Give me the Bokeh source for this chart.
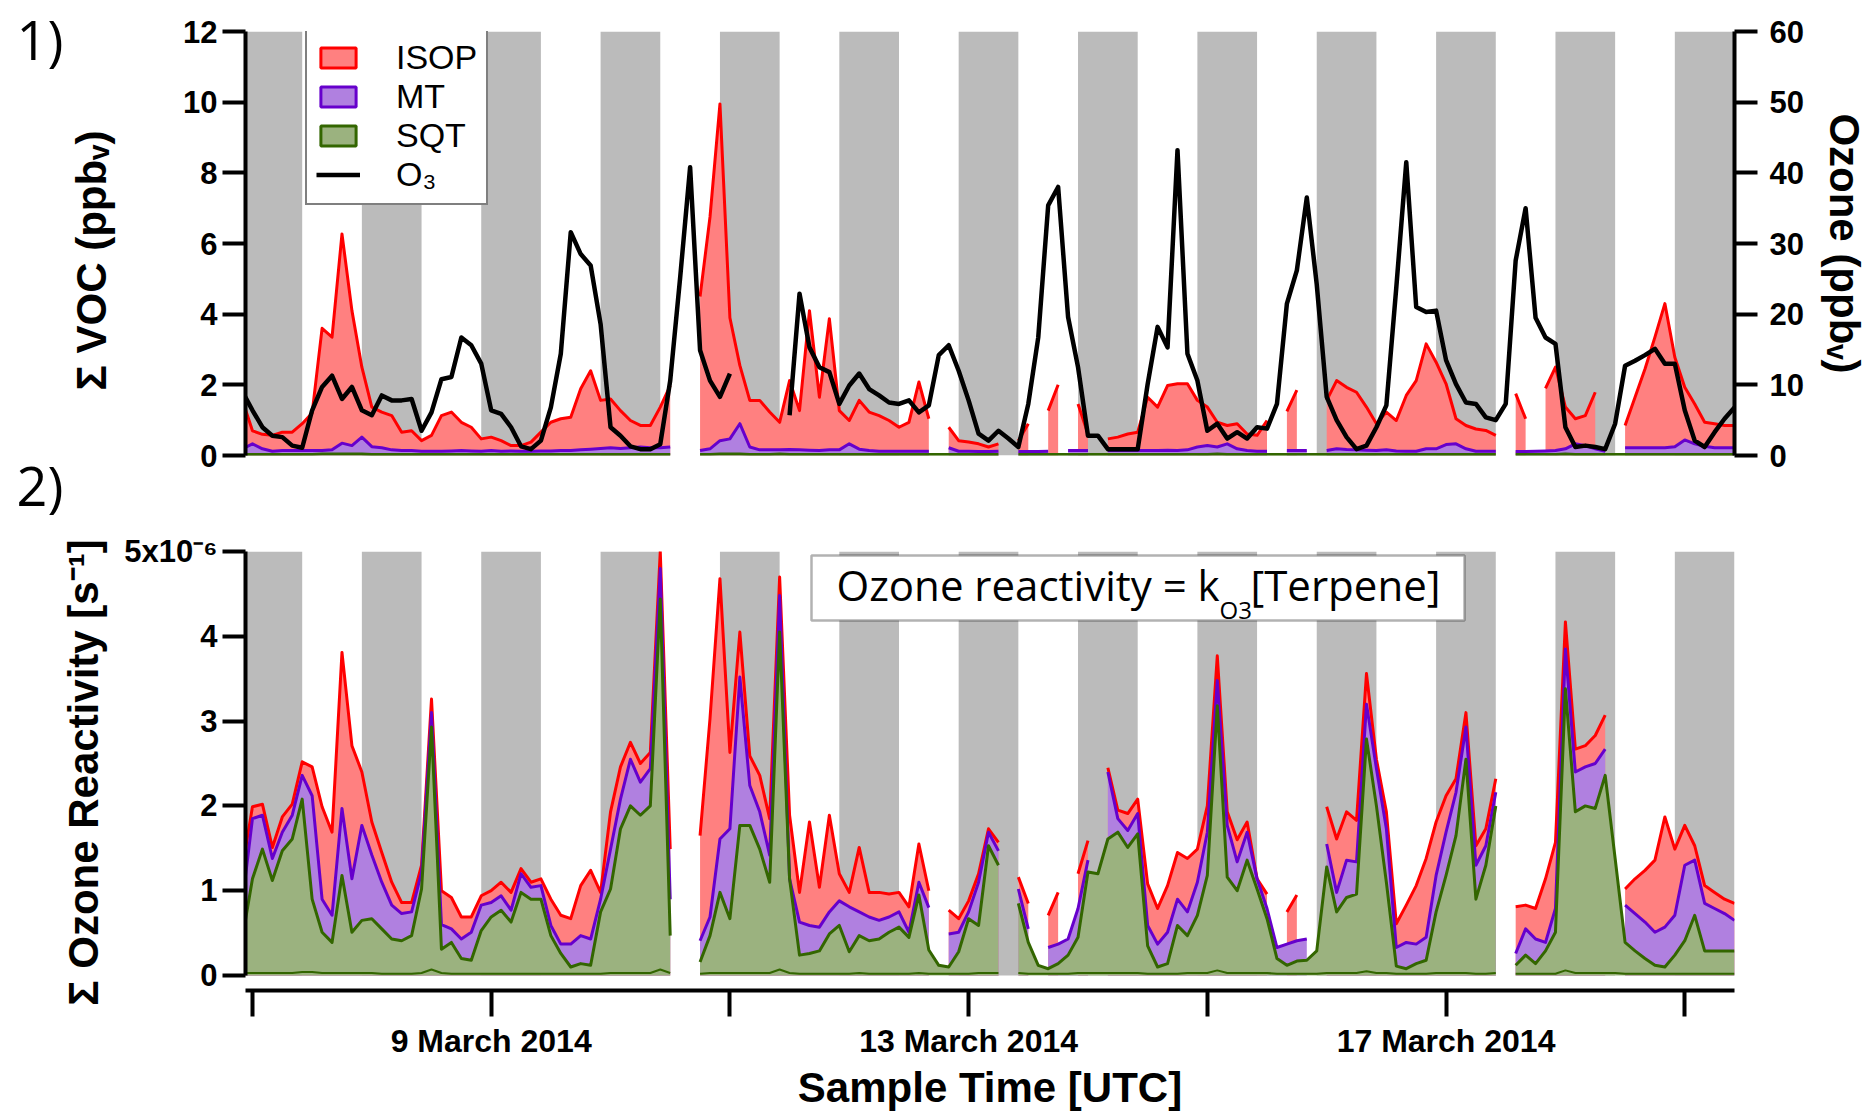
import math
import numpy as np
import pandas as pd
from bokeh.plotting import figure
from bokeh.models import (ColumnDataSource, Range1d, LinearAxis, FixedTicker,
                          Label, Legend, LegendItem, BoxAnnotation)
from bokeh.layouts import column, row
from bokeh.embed import file_html
from bokeh.resources import INLINE

NaN = float("nan")

# ---------------- data ----------------
sample_time = pd.date_range("2014-03-06 22:00", periods=151, freq="2h")
night_start = pd.date_range("2014-03-06 22:00", "2014-03-18 22:00", freq="D")
night_end = night_start + pd.Timedelta(hours=12)

# Panel 1: mixing ratios (ppbv)
isop = [
    1.56, 0.70, 0.60, 0.57, 0.66, 0.66, 0.90, 1.20, 3.60, 3.35,
    6.27, 4.10, 2.50, 1.37, 1.23, 1.13, 0.66, 0.70, 0.42, 0.57,
    1.13, 1.23, 0.94, 0.80, 0.47, 0.52, 0.42, 0.28, 0.28, 0.38,
    0.66, 0.94, 1.04, 1.08, 1.89, 2.40, 1.56, 1.60, 1.27, 0.99,
    0.85, 0.85, 1.37, 1.98, NaN, NaN, 4.50, 6.75, 9.95, 3.90,
    2.55, 1.56, 1.56, 1.23, 0.94, 2.12, 1.27, 4.10, 1.65, 3.87,
    1.27, 0.99, 1.56, 1.23, 1.13, 0.99, 0.80, 0.94, 2.08, 1.04,
    NaN, 0.80, 0.42, 0.38, 0.33, 0.24, 0.33, NaN, 0.42, 0.90,
    NaN, 1.27, 2.00, NaN, 1.46, 0.61, NaN, 0.47, 0.52, 0.61,
    0.66, 1.65, 1.37, 1.98, 2.03, 2.03, 1.56, 1.37, 0.94, 0.85,
    0.90, 0.61, 0.57, 0.99, NaN, 1.25, 1.85, NaN, NaN, 1.56,
    2.12, 1.93, 1.79, 1.37, 0.90, 1.23, 0.99, 1.70, 2.12, 3.16,
    2.64, 2.03, 1.04, 0.85, 0.75, 0.71, 0.57, NaN, 1.75, 1.04,
    NaN, 1.90, 2.50, 1.37, 1.04, 1.13, 1.79, NaN, NaN, 0.85,
    1.65, 2.45, 3.35, 4.30, 2.78, 1.93, 1.46, 0.94, 0.90, 0.85, 0.85]

mt = [
    0.19, 0.33, 0.19, 0.12, 0.14, 0.14, 0.14, 0.14, 0.14, 0.16,
    0.35, 0.28, 0.52, 0.25, 0.22, 0.16, 0.14, 0.14, 0.12, 0.12,
    0.12, 0.13, 0.14, 0.13, 0.12, 0.14, 0.12, 0.13, 0.12, 0.12,
    0.13, 0.13, 0.14, 0.14, 0.16, 0.18, 0.20, 0.22, 0.20, 0.22,
    0.24, 0.22, 0.22, 0.24, NaN, NaN, 0.14, 0.19, 0.42, 0.47,
    0.90, 0.24, 0.16, 0.16, 0.16, 0.17, 0.16, 0.15, 0.14, 0.16,
    0.16, 0.33, 0.18, 0.14, 0.12, 0.12, 0.12, 0.12, 0.12, 0.12,
    NaN, 0.22, 0.12, 0.12, 0.11, 0.11, 0.12, NaN, 0.11, 0.11,
    0.11, 0.12, NaN, 0.14, 0.14, 0.14, NaN, 0.14, 0.14, 0.14,
    0.14, 0.14, 0.14, 0.15, 0.14, 0.16, 0.24, 0.28, 0.24, 0.33,
    0.19, 0.14, 0.12, 0.12, NaN, 0.14, 0.14, 0.14, NaN, 0.14,
    0.19, 0.17, 0.16, 0.15, 0.14, 0.16, 0.13, 0.12, 0.12, 0.19,
    0.19, 0.31, 0.33, 0.19, 0.12, 0.12, 0.12, NaN, 0.11, 0.11,
    0.12, 0.13, 0.14, 0.19, 0.33, 0.28, 0.19, 0.12, NaN, 0.22,
    0.22, 0.22, 0.22, 0.22, 0.25, 0.44, 0.33, 0.26, 0.22, 0.22, 0.22]

sqt = [
    0.03, 0.03, 0.03, 0.03, 0.03, 0.03, 0.03, 0.03, 0.04, 0.04,
    0.04, 0.04, 0.04, 0.03, 0.03, 0.03, 0.03, 0.03, 0.03, 0.03,
    0.03, 0.03, 0.03, 0.03, 0.03, 0.03, 0.03, 0.03, 0.03, 0.03,
    0.03, 0.03, 0.03, 0.03, 0.03, 0.03, 0.03, 0.03, 0.03, 0.03,
    0.03, 0.03, 0.03, 0.03, NaN, NaN, 0.03, 0.03, 0.04, 0.04,
    0.04, 0.03, 0.03, 0.03, 0.04, 0.03, 0.03, 0.03, 0.03, 0.03,
    0.03, 0.03, 0.03, 0.03, 0.03, 0.03, 0.03, 0.03, 0.03, 0.03,
    0.03, 0.03, 0.03, 0.03, 0.03, 0.03, 0.03, NaN, 0.03, 0.03,
    0.03, 0.03, 0.03, 0.03, 0.03, 0.03, 0.03, 0.03, 0.03, 0.03,
    0.03, 0.03, 0.03, 0.03, 0.03, 0.03, 0.03, 0.03, 0.04, 0.03,
    0.03, 0.03, 0.03, 0.03, 0.03, 0.03, 0.03, 0.03, 0.03, 0.03,
    0.03, 0.03, 0.03, 0.03, 0.03, 0.03, 0.03, 0.03, 0.03, 0.03,
    0.03, 0.03, 0.03, 0.03, 0.03, 0.03, 0.03, NaN, 0.03, 0.03,
    0.03, 0.03, 0.03, 0.04, 0.03, 0.03, 0.03, 0.03, 0.03, 0.03,
    0.03, 0.03, 0.03, 0.03, 0.03, 0.03, 0.03, 0.03, 0.03, 0.03, 0.03]

o3 = [
    9.0, 6.4, 4.0, 2.8, 2.6, 1.4, 1.1, 6.4, 9.7, 11.3,
    8.0, 9.7, 6.4, 5.7, 8.5, 7.8, 7.8, 8.0, 3.5, 6.1,
    10.8, 11.1, 16.7, 15.6, 13.0, 6.4, 5.9, 4.0, 1.3, 0.9,
    2.1, 6.8, 14.4, 31.6, 28.5, 26.9, 18.6, 4.0, 2.8, 1.3,
    0.9, 0.9, 1.6, 10.6, 25.2, 40.8, 14.9, 10.6, 8.3, 11.6,
    NaN, NaN, NaN, NaN, NaN, 5.7, 22.9, 15.3, 12.5, 11.8,
    7.3, 9.9, 11.6, 9.4, 8.5, 7.5, 7.3, 7.8, 6.1, 7.1,
    14.2, 15.6, 12.0, 7.8, 3.1, 2.1, 3.5, 2.4, 1.2, 7.3,
    16.7, 35.4, 38.0, 19.6, 12.5, 2.8, 2.8, 0.9, 0.9, 0.9,
    0.9, 10.1, 18.2, 15.3, 43.2, 14.4, 10.6, 3.5, 4.5, 2.4,
    3.3, 2.4, 4.0, 3.8, 7.3, 21.5, 26.2, 36.5, 24.2, 8.3,
    5.0, 2.6, 0.9, 1.4, 4.0, 7.1, 23.8, 41.5, 21.0, 20.3,
    20.5, 13.5, 10.1, 7.5, 7.3, 5.4, 5.0, 7.3, 27.6, 35.0,
    19.5, 16.7, 15.8, 4.0, 1.2, 1.4, 1.2, 0.9, 4.5, 12.7,
    13.4, 14.2, 15.1, 13.0, 13.0, 6.4, 2.1, 1.2, 3.3, 5.2, 6.8]

# Panel 2: ozone reactivity (1e-6 s^-1), cumulative levels
react_isop = [
    1.28, 1.99, 2.02, 1.51, 1.87, 2.02, 2.52, 2.46, 1.99, 1.69,
    3.81, 2.71, 2.40, 1.81, 1.45, 1.10, 0.86, 0.86, 1.30, 3.26,
    1.00, 0.92, 0.69, 0.69, 0.94, 1.00, 1.10, 0.98, 1.26, 1.10,
    1.14, 0.90, 0.71, 0.67, 1.06, 1.24, 0.98, 1.93, 2.46, 2.75,
    2.50, 2.63, 5.00, 1.49, NaN, NaN, 1.65, 3.03, 4.68, 2.63,
    4.05, 2.59, 2.36, 1.85, 4.70, 1.89, 0.98, 1.81, 1.04, 1.89,
    1.20, 0.98, 1.51, 0.98, 0.98, 0.96, 0.98, 0.81, 1.55, 1.00,
    NaN, 0.77, 0.67, 0.88, 1.20, 1.73, 1.57, NaN, 1.16, 0.85,
    NaN, 0.71, 0.98, NaN, 1.20, 1.59, NaN, 2.45, 1.95, 1.91,
    2.08, 1.08, 0.79, 1.06, 1.45, 1.38, 1.49, 2.00, 3.77, 1.93,
    1.60, 1.81, 1.14, 0.96, NaN, 0.75, 0.95, NaN, NaN, 1.99,
    1.61, 1.93, 1.83, 3.56, 2.55, 1.93, 0.61, 0.83, 1.06, 1.38,
    1.81, 2.12, 2.32, 3.10, 1.53, 1.73, 2.32, NaN, 0.81, 0.83,
    0.79, 1.14, 1.57, 4.17, 2.67, 2.71, 2.83, 3.07, NaN, 1.02,
    1.14, 1.24, 1.36, 1.87, 1.49, 1.77, 1.53, 1.06, 0.98, 0.90, 0.85]

react_mt = [
    0.88, 1.85, 1.89, 1.38, 1.69, 1.89, 2.36, 2.12, 0.90, 0.71,
    1.97, 1.14, 1.77, 1.42, 1.10, 0.83, 0.73, 0.75, 1.22, 3.10,
    0.60, 0.55, 0.43, 0.51, 0.83, 0.86, 0.94, 0.77, 1.20, 1.04,
    1.06, 0.59, 0.37, 0.37, 0.47, 0.43, 0.90, 1.49, 2.08, 2.55,
    2.28, 2.44, 4.80, 0.90, NaN, NaN, 0.41, 0.69, 1.61, 1.73,
    3.52, 2.24, 1.93, 1.42, 4.48, 1.14, 0.63, 0.59, 0.57, 0.75,
    0.88, 0.81, 0.75, 0.69, 0.65, 0.69, 0.75, 0.51, 1.10, 0.80,
    NaN, 0.49, 0.51, 0.75, 1.10, 1.69, 1.47, NaN, 1.02, 0.55,
    NaN, 0.33, 0.37, 0.43, 0.79, 1.36, NaN, 2.40, 1.85, 1.71,
    1.91, 0.59, 0.37, 0.51, 0.90, 0.75, 1.10, 1.69, 3.48, 1.77,
    1.34, 1.69, 1.14, 0.79, 0.33, 0.37, 0.41, 0.43, NaN, 1.55,
    0.98, 1.36, 1.34, 3.20, 2.44, 1.73, 0.33, 0.39, 0.37, 0.45,
    1.18, 1.69, 2.16, 2.93, 1.30, 1.53, 2.16, NaN, 0.26, 0.55,
    0.43, 0.39, 0.79, 3.85, 2.40, 2.46, 2.50, 2.67, NaN, 0.83,
    0.73, 0.63, 0.51, 0.57, 0.71, 1.30, 1.36, 0.85, 0.79, 0.73, 0.65]

react_sqt = [
    0.45, 1.14, 1.49, 1.12, 1.47, 1.61, 2.08, 0.90, 0.51, 0.39,
    1.18, 0.51, 0.65, 0.67, 0.55, 0.43, 0.41, 0.47, 1.02, 2.93,
    0.31, 0.39, 0.20, 0.18, 0.53, 0.69, 0.77, 0.63, 0.98, 0.90,
    0.90, 0.47, 0.26, 0.10, 0.14, 0.12, 0.75, 1.02, 1.73, 2.00,
    1.89, 2.00, 4.44, 0.47, NaN, NaN, 0.16, 0.47, 0.98, 0.67,
    1.77, 1.77, 1.49, 1.10, 4.05, 1.14, 0.24, 0.26, 0.29, 0.49,
    0.59, 0.28, 0.47, 0.41, 0.43, 0.51, 0.57, 0.45, 0.95, 0.30,
    0.12, 0.10, 0.28, 0.67, 0.59, 1.53, 1.30, NaN, 0.85, 0.39,
    0.12, 0.08, 0.14, 0.24, 0.45, 1.22, 1.20, 1.61, 1.69, 1.51,
    1.67, 0.35, 0.10, 0.14, 0.59, 0.47, 0.71, 1.18, 3.18, 1.16,
    1.00, 1.36, 1.02, 0.67, 0.20, 0.12, 0.17, 0.18, 0.29, 1.28,
    0.75, 0.92, 0.96, 2.79, 2.00, 1.10, 0.11, 0.08, 0.14, 0.18,
    0.75, 1.18, 1.65, 2.55, 0.90, 1.30, 2.00, NaN, 0.12, 0.24,
    0.14, 0.29, 0.51, 3.38, 1.93, 2.00, 1.97, 2.36, 1.38, 0.39,
    0.29, 0.20, 0.12, 0.10, 0.24, 0.41, 0.71, 0.29, 0.29, 0.29, 0.29]

react_base = [
    0.03, 0.03, 0.03, 0.03, 0.03, 0.03, 0.04, 0.04, 0.03, 0.03,
    0.03, 0.03, 0.03, 0.03, 0.02, 0.02, 0.02, 0.02, 0.03, 0.07,
    0.03, 0.02, 0.02, 0.02, 0.02, 0.02, 0.02, 0.02, 0.02, 0.02,
    0.02, 0.02, 0.02, 0.02, 0.02, 0.02, 0.02, 0.03, 0.03, 0.03,
    0.03, 0.03, 0.07, 0.03, NaN, NaN, 0.02, 0.03, 0.03, 0.03,
    0.03, 0.03, 0.03, 0.03, 0.07, 0.03, 0.02, 0.02, 0.02, 0.02,
    0.02, 0.02, 0.03, 0.02, 0.02, 0.02, 0.02, 0.02, 0.03, 0.02,
    0.02, 0.02, 0.02, 0.02, 0.03, 0.03, 0.03, NaN, 0.03, 0.02,
    0.02, 0.02, 0.02, 0.02, 0.03, 0.03, 0.03, 0.03, 0.03, 0.03,
    0.03, 0.02, 0.02, 0.02, 0.02, 0.03, 0.03, 0.03, 0.06, 0.03,
    0.03, 0.03, 0.03, 0.03, 0.02, 0.02, 0.02, 0.02, 0.02, 0.03,
    0.03, 0.03, 0.03, 0.05, 0.03, 0.03, 0.02, 0.02, 0.02, 0.02,
    0.03, 0.03, 0.03, 0.03, 0.02, 0.02, 0.03, NaN, 0.02, 0.02,
    0.02, 0.02, 0.02, 0.06, 0.03, 0.03, 0.03, 0.03, 0.03, 0.02,
    0.02, 0.02, 0.02, 0.02, 0.02, 0.02, 0.02, 0.02, 0.02, 0.02, 0.02]

for s in (isop, mt, sqt, o3, react_isop, react_mt, react_sqt, react_base):
    assert len(s) == len(sample_time), len(s)

tick_dates = pd.to_datetime(["2014-03-07", "2014-03-09", "2014-03-11", "2014-03-13",
                             "2014-03-15", "2014-03-17", "2014-03-19"])
tick_labels = ["", "9 March 2014", "", "13 March 2014", "", "17 March 2014", ""]
voc_ticks = [0, 2, 4, 6, 8, 10, 12]
o3_ticks = [0, 10, 20, 30, 40, 50, 60]
react_ticks = [0, 1, 2, 3, 4, 5]
react_tick_labels = ["0", "1", "2", "3", "4", "5x10\u207b\u2076"]

# ---------------- style ----------------
RED, RED_FILL = "#FF0000", "#FF8080"
PURPLE, PURPLE_FILL = "#6600CC", "#B080E0"
GREEN, GREEN_FILL = "#336600", "#9BB27F"
GRAY = "#BBBBBB"
AX_FONT = "Liberation Sans"
TXT_FONT = "Open Sans"

t = sample_time.values


def style_axis(ax):
    ax.axis_line_width = 4
    ax.axis_line_color = "black"
    ax.major_tick_line_width = 4
    ax.major_tick_line_color = "black"
    ax.major_tick_out = 23
    ax.major_tick_in = 0
    ax.minor_tick_line_color = None
    ax.major_label_text_font = AX_FONT
    ax.major_label_text_font_style = "bold"
    ax.major_label_text_font_size = "31px"
    ax.major_label_text_color = "black"
    ax.axis_label_text_font = AX_FONT
    ax.axis_label_text_font_style = "bold"
    ax.axis_label_text_font_size = "42px"
    ax.axis_label_text_color = "black"
    ax.major_label_standoff = 5


def draw_area(p, y, color):
    y = np.asarray(y, dtype=float)
    idx = np.flatnonzero(np.isfinite(y))
    runs = np.split(idx, np.flatnonzero(np.diff(idx) > 1) + 1)
    for r in runs:
        if len(r) < 2:
            continue
        src = ColumnDataSource(dict(t=t[r], y=y[r]))
        p.varea(x="t", y1=0, y2="y", source=src, fill_color=color, fill_alpha=1)


def text_label(x, y_base, text, size, font=TXT_FONT):
    # anchor is placed at the centre of the text box, ~0.39 em above the baseline
    return Label(x=x, y=y_base + 0.39 * size, x_units="screen", y_units="screen",
                 text=text, text_font=font, text_font_size=f"{size}px",
                 text_color="black", text_baseline="alphabetic", text_align="left")


def axis_title(xc, yc, text, size=42):
    return Label(x=xc, y=yc, x_units="screen", y_units="screen", text=text,
                 angle=math.pi / 2, text_font=AX_FONT, text_font_style="bold",
                 text_font_size=f"{size}px", text_color="black",
                 text_align="center", text_baseline="alphabetic")


xr = Range1d(pd.Timestamp("2014-03-06 22:36"), pd.Timestamp("2014-03-19 10:00"))

LEFT_W = 116
MAIN_W = 1754
BORDER_L = 245 - LEFT_W
H_TOTAL = 1115

# ---------------- left column: panel numbers and y titles ----------------
pl = figure(width=LEFT_W, height=H_TOTAL, x_range=Range1d(0, 1), y_range=Range1d(0, 1),
            x_axis_location=None, y_axis_location=None, output_backend="svg",
            toolbar_location=None, min_border_left=0, min_border_right=0,
            min_border_top=0, min_border_bottom=0)
pl.grid.visible = False
pl.outline_line_color = None
pl.add_layout(text_label(16, H_TOTAL - 60, "1)", 54))
pl.add_layout(text_label(16, H_TOTAL - 506, "2)", 54))
pl.add_layout(axis_title(91, H_TOTAL - 260, "\u03a3 VOC (ppb\u1d65)"))
pl.add_layout(axis_title(83, H_TOTAL - 772, "\u03a3 Ozone Reactivity [s\u207b\u00b9]"))

# ---------------- panel 1 ----------------
p1 = figure(width=MAIN_W, height=480, x_axis_type="datetime", x_range=xr,
            y_range=Range1d(voc_ticks[0], voc_ticks[-1]), x_axis_location=None,
            output_backend="svg", toolbar_location=None,
            min_border_left=BORDER_L, min_border_right=133, min_border_top=31,
            min_border_bottom=25)
p1.grid.visible = False
p1.outline_line_color = None
p1.extra_y_ranges = {"o3": Range1d(o3_ticks[0], o3_ticks[-1])}

p1.quad(left=night_start, right=night_end, bottom=voc_ticks[0], top=voc_ticks[-1],
        fill_color=GRAY, line_color=None)
draw_area(p1, isop, RED_FILL)
draw_area(p1, mt, PURPLE_FILL)
draw_area(p1, sqt, GREEN_FILL)
p1.line(t, isop, line_color=RED, line_width=3, line_join="round")
p1.line(t, mt, line_color=PURPLE, line_width=3, line_join="round")
p1.line(t, sqt, line_color=GREEN, line_width=3, line_join="round")
r_o3 = p1.line(t, o3, y_range_name="o3", line_color="black", line_width=4.5, line_join="round")

# legend swatches (not drawn in the plot: NaN coordinates)
sw_isop = p1.quad(left=[NaN], right=[NaN], bottom=[NaN], top=[NaN],
                  fill_color=RED_FILL, line_color=RED, line_width=3)
sw_mt = p1.quad(left=[NaN], right=[NaN], bottom=[NaN], top=[NaN],
                fill_color=PURPLE_FILL, line_color=PURPLE, line_width=3)
sw_sqt = p1.quad(left=[NaN], right=[NaN], bottom=[NaN], top=[NaN],
                 fill_color=GREEN_FILL, line_color=GREEN, line_width=3)

ly = p1.yaxis[0]
ly.ticker = FixedTicker(ticks=voc_ticks)
style_axis(ly)

ry = LinearAxis(y_range_name="o3", axis_label="Ozone (ppb\u1d65)", ticker=FixedTicker(ticks=o3_ticks))
style_axis(ry)
ry.major_label_standoff = 12
ry.axis_label_standoff = 14
p1.add_layout(ry, "right")

legend = Legend(items=[LegendItem(label="ISOP", renderers=[sw_isop]),
                       LegendItem(label="MT", renderers=[sw_mt]),
                       LegendItem(label="SQT", renderers=[sw_sqt]),
                       LegendItem(label="O\u2083", renderers=[r_o3])],
                location=(60, 250), orientation="vertical",
                label_text_font=AX_FONT, label_text_font_size="34px", label_text_color="black",
                glyph_width=44, glyph_height=25, label_standoff=36, padding=9, spacing=0,
                margin=0, border_line_color="black", border_line_width=2.5,
                background_fill_color="white", background_fill_alpha=1)
p1.add_layout(legend)

# ---------------- panel 2 ----------------
p2 = figure(width=MAIN_W, height=H_TOTAL - 480, x_axis_type="datetime", x_range=xr,
            y_range=Range1d(-0.177, react_ticks[-1]),
            output_backend="svg", toolbar_location=None,
            min_border_left=BORDER_L, min_border_right=133, min_border_top=71,
            min_border_bottom=125)
p2.grid.visible = False
p2.outline_line_color = None

p2.quad(left=night_start, right=night_end, bottom=react_ticks[0], top=react_ticks[-1],
        fill_color=GRAY, line_color=None)
draw_area(p2, react_isop, RED_FILL)
draw_area(p2, react_mt, PURPLE_FILL)
draw_area(p2, react_sqt, GREEN_FILL)
p2.line(t, react_isop, line_color=RED, line_width=3, line_join="round")
p2.line(t, react_mt, line_color=PURPLE, line_width=3, line_join="round")
p2.line(t, react_sqt, line_color=GREEN, line_width=3, line_join="round")
p2.line(t, react_base, line_color=GREEN, line_width=2, line_join="round")

ly2 = p2.yaxis[0]
ly2.ticker = FixedTicker(ticks=react_ticks)
ly2.major_label_overrides = {tk: lab for tk, lab in zip(react_ticks, react_tick_labels)}
ly2.bounds = (react_ticks[0], react_ticks[-1])
style_axis(ly2)

bx = p2.xaxis[0]
tick_ms = [ts.value / 1e6 for ts in tick_dates]
bx.ticker = FixedTicker(ticks=tick_ms)
bx.major_label_overrides = {ms: lab for ms, lab in zip(tick_ms, tick_labels)}
bx.axis_label = "Sample Time [UTC]"
style_axis(bx)
bx.major_tick_out = 26
bx.major_label_text_font_size = "32px"
bx.major_label_standoff = 6
bx.axis_label_standoff = 2

p2.add_layout(BoxAnnotation(left=566, right=1219, bottom=370, top=435,
                            left_units="screen", right_units="screen",
                            bottom_units="screen", top_units="screen",
                            fill_color="white", fill_alpha=1,
                            line_color="black", line_width=2.5))
p2.add_layout(text_label(591, 390, "Ozone reactivity = k", 42))
p2.add_layout(text_label(974, 372, "O3", 24))
p2.add_layout(text_label(1005, 390, "[Terpene]", 42))

layout = row(pl, column(p1, p2))
open("out.html", "w").write(file_html(layout, INLINE))
